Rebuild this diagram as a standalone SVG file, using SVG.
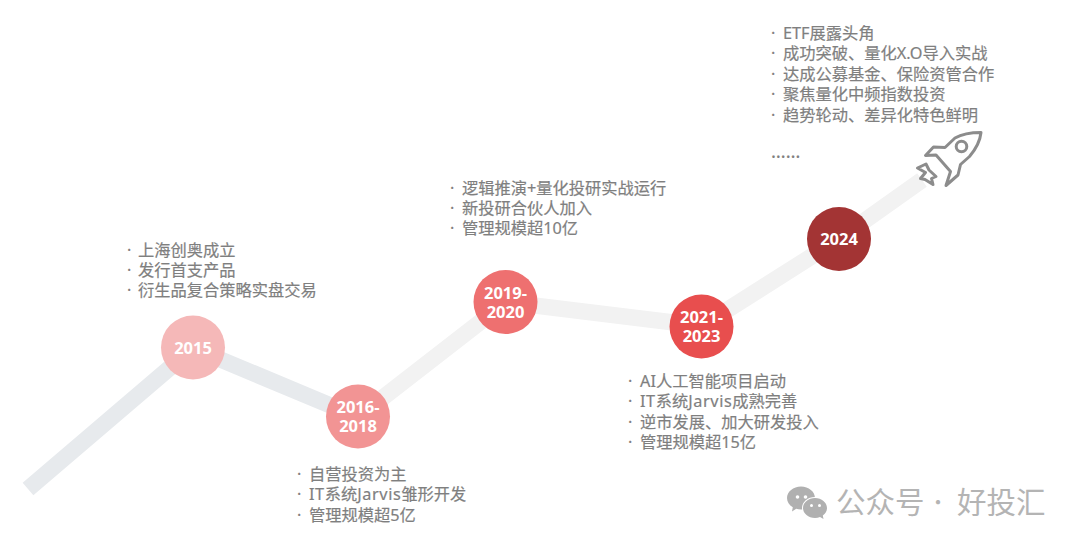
<svg xmlns="http://www.w3.org/2000/svg" width="1080" height="547" viewBox="0 0 1080 547">
<style>
.t{font-family:"Noto Sans","Noto Sans CJK SC",sans-serif;font-size:16.25px;fill:#7f7f7f;stroke:#7f7f7f;stroke-width:.2}
.l{letter-spacing:.6px}
.y{font-family:"Open Sans","Noto Sans CJK SC",sans-serif;font-size:16.5px;font-weight:700;fill:#fff;text-anchor:middle}
.c{fill:none;stroke-width:16.5}
.w{font-family:"Noto Sans CJK SC",sans-serif;font-size:29.5px;fill:#b4b4b4}
.r{fill:none;stroke:#8c8c8c;stroke-width:3;stroke-linejoin:round}
</style>
<rect width="1080" height="547" fill="#fff"/>
<g id="connectors">
<path class="c" stroke="#e7eaed" d="M28 489L193 348L358 417"/>
<path class="c" stroke="#f2f2f2" d="M358 417L506 302L702 326L839 239L922 180"/>
</g>
<g id="node-2015"><circle cx="193" cy="347.500" r="32" fill="#f5b8b8"/><text class="y" x="193" y="353.500">2015</text>
<g class="t"><text x="127" y="255.500">· <tspan x="138">上海创奥成立</tspan></text><text x="127" y="276">· <tspan x="138">发行首支产品</tspan></text><text x="127" y="296">· <tspan x="138">衍生品复合策略实盘交易</tspan></text></g></g>
<g id="node-2016"><circle cx="358" cy="416.500" r="32" fill="#f29494"/><text class="y" x="358" y="413">2016-<tspan x="358" dy="19">2018</tspan></text>
<g class="t"><text x="297" y="479.500">· <tspan x="309">自营投资为主</tspan></text><text x="297" y="500">· <tspan x="309"><tspan class="l">IT</tspan>系统<tspan class="l">Jarvis</tspan>雏形开发</tspan></text><text x="297" y="520.500">· <tspan x="309">管理规模超5亿</tspan></text></g></g>
<g id="node-2019"><circle cx="505.500" cy="302" r="32" fill="#ee7070"/><text class="y" x="505.500" y="298.500">2019-<tspan x="505.500" dy="19">2020</tspan></text>
<g class="t"><text x="450" y="193.500">· <tspan x="462">逻辑推演+量化投研实战运行</tspan></text><text x="450" y="213.500">· <tspan x="462">新投研合伙人加入</tspan></text><text x="450" y="234">· <tspan x="462">管理规模超10亿</tspan></text></g></g>
<g id="node-2021"><circle cx="701.500" cy="326.500" r="32" fill="#e84e4e"/><text class="y" x="701.500" y="323">2021-<tspan x="701.500" dy="19">2023</tspan></text>
<g class="t"><text x="628" y="386.500">· <tspan x="640">AI人工智能项目启动</tspan></text><text x="628" y="407">· <tspan x="640"><tspan class="l">IT</tspan>系统<tspan class="l">Jarvis</tspan>成熟完善</tspan></text><text x="628" y="427.500">· <tspan x="640">逆市发展、加大研发投入</tspan></text><text x="628" y="448">· <tspan x="640">管理规模超15亿</tspan></text></g></g>
<g id="node-2024"><circle cx="839" cy="239" r="32" fill="#a33434"/><text class="y" x="839" y="245">2024</text>
<g class="t"><text x="771" y="38.500">· <tspan x="783">ETF展露头角</tspan></text><text x="771" y="59">· <tspan x="783">成功突破、量化X.O导入实战</tspan></text><text x="771" y="79.500">· <tspan x="783">达成公募基金、保险资管合作</tspan></text><text x="771" y="99.500">· <tspan x="783">聚焦量化中频指数投资</tspan></text><text x="771" y="120.500">· <tspan x="783">趋势轮动、差异化特色鲜明</tspan></text><text x="771" y="158" style="font-size:18.500px">……</text></g></g>
<g id="rocket">
<path class="r" d="M981 132.500C972 132.500 962 134 955 138L945 147.500L933.500 147L925.500 155.500L936 155L950.500 171.500L946 185.500L958 175L960.500 164.500L969.500 156.500C975 150 980 142 981 132.500Z"/>
<circle class="r" cx="961.500" cy="146.500" r="5.300"/>
<path class="r" d="M917.500 168L926 164L929 170L936 176.500L931.500 178.500L933 184.500L925 179.500L920.500 178.500L925.500 172.500L917.500 168Z"/>
</g>
<g id="watermark">
<path fill="#b0b0b0" d="M801 486.500c7.700 0 14 5.200 14 11.500s-6.300 11.500-14 11.500c-1.700 0-3.300-.2-4.800-.7l-4.200 2.700 .8-4.300c-3.600-2.100-5.800-5.500-5.800-9.200 0-6.300 6.300-11.500 14-11.500z"/>
<ellipse cx="815" cy="508" rx="13" ry="11" fill="#fff"/>
<path fill="#b0b0b0" d="M815 498c6.600 0 12 4.500 12 10 0 3-1.600 5.700-4.200 7.500l.7 3.500-3.500-2c-1.500.6-3.200 1-5 1-6.600 0-12-4.500-12-10s5.400-10 12-10z"/>
<g fill="#fff"><circle cx="797.500" cy="497" r="1.800"/><circle cx="805.500" cy="497" r="1.800"/><circle cx="811.500" cy="505.500" r="1.500"/><circle cx="819.500" cy="505.500" r="1.500"/></g>
<text class="w" x="836" y="513">公众号</text><text class="w" x="938" y="510" text-anchor="middle" style="font-size:20px">·</text><text class="w" x="957" y="513">好投汇</text></g>
</svg>
